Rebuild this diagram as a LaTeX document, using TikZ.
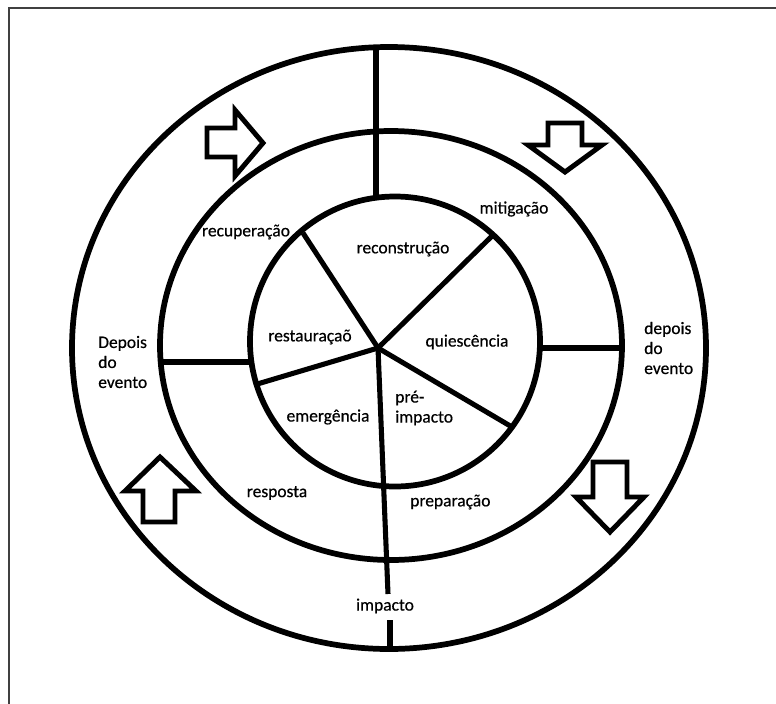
\documentclass[tikz,border=0pt]{standalone}
\usepackage{fontspec}
\setmainfont{Carlito}
\newfontfamily\lblfont[FakeBold=0.5]{Carlito}
\begin{document}
\begin{tikzpicture}[x=0.75pt,y=-0.75pt,
  ring/.style={line width=4.3pt},
  spoke/.style={line width=3.8pt},
  blockarrow/.style={line width=3.7pt, line join=miter},
  lbl/.style={inner sep=0pt, font=\lblfont\fontsize{13.1}{15}\selectfont, align=left}]
\useasboundingbox (0,0) rectangle (776,704);
% frame
\draw[line width=1.3pt, black!75] (9,712) -- (9,8) -- (784,8);
% rings
\draw[ring] (389,348) ellipse [x radius=317, y radius=301];
\draw[ring] (391,345.5) ellipse [x radius=231, y radius=214.5];
\draw[ring] (395,341.5) circle [radius=145];
% coordinates
\coordinate (hub) at (378,348);
\coordinate (otop) at (376,46);
\coordinate (itop) at (376,198);
\coordinate (ul) at (303,233);
\coordinate (ur) at (493,235);
\coordinate (dr) at (512,427);
\coordinate (le) at (254,385);
\coordinate (dn) at (388,594);
\coordinate (ml) at (160,362);
\coordinate (il) at (252,362);
\coordinate (ir) at (540,348);
\coordinate (mr) at (622,348);
\coordinate (bt1) at (390,620);
\coordinate (bt2) at (390,649);
% spokes
\draw[spoke] (otop) -- (itop);
\draw[spoke] (hub) -- (ul);
\draw[spoke] (hub) -- (ur);
\draw[spoke] (hub) -- (dr);
\draw[spoke] (hub) -- (le);
\draw[spoke] (hub) -- (dn);
\draw[spoke] (ml) -- (il);
\draw[spoke] (ir) -- (mr);
\draw[spoke] (bt1) -- (bt2);
% block arrows
\draw[blockarrow] (207,128) -- (235,128) -- (235,110) -- (263,143) -- (235,176) -- (235,157) -- (207,157) -- cycle;
\draw[blockarrow] (548,123) -- (582,123) -- (582,145) -- (602,145) -- (565,172) -- (528,145) -- (548,145) -- cycle;
\draw[blockarrow] (593,462) -- (627,462) -- (627,497) -- (644,497) -- (610,532) -- (576,497) -- (593,497) -- cycle;
\draw[blockarrow] (143,522) -- (175,522) -- (175,491) -- (196,491) -- (160,457) -- (125,491) -- (143,491) -- cycle;
% labels
\node[lbl] (mit) at (514,209) {mitigação};
\node[lbl] (rec) at (246,232) {recuperação};
\node[lbl] (recon) at (403,249) {reconstrução};
\node[lbl] (rest) at (310,337) {restauraçaõ};
\node[lbl] (qui) at (467,342) {quiescência};
\node[lbl, anchor=west] (pre) at (395,408) {pré-\\impacto};
\node[lbl] (eme) at (328,417) {emergência};
\node[lbl] (resp) at (277,493) {resposta};
\node[lbl, anchor=west] (prep) at (410,502) {preparação};
\node[lbl] (imp) at (385,606) {impacto};
\node[lbl, anchor=west] (dl) at (98,362) {Depois\\do\\evento};
\node[lbl, anchor=west] (dr2) at (644,348) {depois\\do\\evento};
\end{tikzpicture}
\end{document}
